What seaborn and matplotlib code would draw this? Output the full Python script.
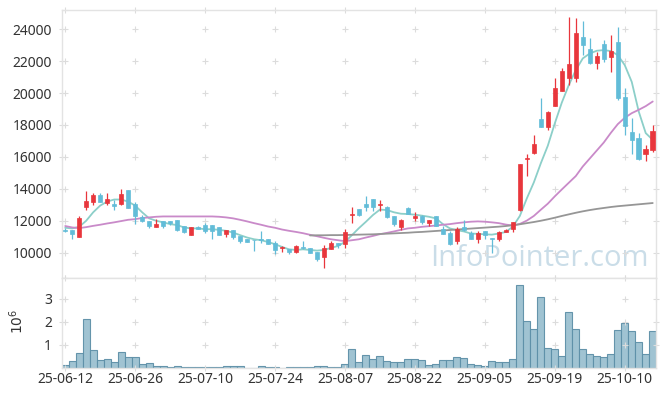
import numpy as np
import pandas as pd
import seaborn as sns
import matplotlib.pyplot as plt

# trading days shown on the axis (every 10th bar gets a label)
tick_labels = ['25-06-12', '25-06-26', '25-07-10', '25-07-24', '25-08-07',
               '25-08-22', '25-09-05', '25-09-19', '25-10-10']

# daily OHLC
opens = [11400, 11410, 11000, 12880, 13160, 13620, 13120, 13030, 13030, 13940,
         13050, 12210, 12000, 11620, 12000, 11980, 12040, 11640, 11120, 11600,
         11730, 11730, 11580, 11160, 11410, 11050, 10840, 10800, 10850, 10840,
         10630, 10310, 10230, 10040, 10340, 10270, 10040, 9730, 10210, 10610,
         10570, 12330, 12740, 13050, 13370, 12980, 12840, 12320, 11580, 12820,
         12170, 12320, 11850, 12270, 11470, 11260, 10740, 11580, 11260, 10880,
         11330, 10900, 10860, 11300, 11500, 12650, 15880, 16240, 18380, 17900,
         19220, 20150, 20960, 20960, 23480, 22750, 21900, 23100, 22270, 23170,
         19740, 17590, 17200, 16200, 16430]
highs = [11560, 11410, 12290, 13890, 13720, 13750, 13720, 13330, 14000, 13940,
         13160, 12360, 12000, 12100, 12000, 11980, 12040, 11680, 11580, 11660,
         11880, 11730, 11580, 11410, 11410, 11050, 10840, 10800, 11370, 10880,
         10740, 10440, 10250, 10460, 10740, 10290, 10040, 10500, 10720, 10610,
         11480, 12840, 12740, 13540, 13370, 13330, 12900, 12320, 12100, 12840,
         12530, 12360, 12060, 12290, 11680, 11370, 11580, 12060, 11370, 11370,
         11370, 10950, 11350, 11490, 11920, 15550, 16180, 17400, 19720, 18880,
         20920, 21590, 24770, 24710, 24500, 23420, 22590, 23310, 23630, 24150,
         20300, 18430, 17500, 16750, 17970]
lows = [11270, 10860, 10960, 12670, 12990, 13160, 12990, 12670, 12990, 12820,
        11790, 11900, 11520, 11620, 11520, 11730, 11370, 11260, 11120, 11470,
        11260, 10880, 11120, 11010, 10880, 10630, 10670, 10110, 10630, 10530,
        9900, 10040, 9900, 9960, 10210, 9960, 9450, 9070, 10210, 10320,
        10270, 11890, 12320, 12630, 12630, 12630, 12150, 11680, 11430, 12420,
        11960, 11790, 11680, 11680, 11160, 10490, 10530, 11370, 10840, 10630,
        10880, 10000, 10760, 11280, 11310, 12640, 14800, 16170, 17900, 17700,
        19220, 20150, 20510, 20710, 22380, 21800, 21480, 21960, 21340, 19570,
        17390, 16200, 15790, 15730, 16300]
closes = [11370, 11180, 12200, 13240, 13620, 13200, 13370, 12950, 13680, 12820,
          12320, 12000, 11640, 11790, 11680, 11830, 11430, 11300, 11580, 11510,
          11370, 11370, 11120, 11410, 10990, 10740, 10670, 10770, 10810, 10570,
          10170, 10350, 10040, 10420, 10300, 9960, 9580, 10270, 10630, 10480,
          11300, 12420, 12360, 12840, 12840, 13030, 12210, 11790, 12020, 12420,
          12300, 11900, 12060, 11680, 11160, 10530, 11470, 11430, 10880, 11260,
          11100, 10860, 11300, 11410, 11920, 15530, 15930, 16800, 17900, 18800,
          20300, 21380, 21800, 23790, 23000, 21900, 22320, 22110, 22630, 19720,
          17910, 17070, 15880, 16500, 17640]

# moving averages as drawn on the chart
ma5 = [11560, 11520, 11620, 12000, 12530, 12950, 13200, 13330, 13330, 13200,
       12950, 12530, 12150, 12000, 11900, 11790, 11730, 11580, 11520, 11520,
       11470, 11470, 11430, 11370, 11260, 11100, 10950, 10840, 10780, 10670,
       10530, 10360, 10210, 10170, 10210, 10170, 10130, 10170, 10300, 10420,
       10670, 11100, 11540, 11940, 12360, 12700, 12670, 12530, 12440, 12420,
       12380, 12320, 12250, 12150, 11790, 11520, 11410, 11330, 11200, 11180,
       11150, 11130, 11200, 11300, 11630, 12300, 13400, 14400, 15600, 16700,
       18100, 19400, 20500, 21440, 22170, 22480, 22650, 22690, 22630, 22380,
       21750, 20700, 18840, 17490, 17070]
ma20 = [11670, 11580, 11540, 11600, 11680, 11750, 11830, 11900, 11980, 12060,
        12100, 12170, 12210, 12250, 12270, 12270, 12270, 12270, 12270, 12270,
        12270, 12270, 12250, 12210, 12150, 12060, 11960, 11850, 11750, 11640,
        11560, 11450, 11370, 11300, 11220, 11120, 11030, 10930, 10840, 10780,
        10720, 10780, 10840, 10950, 11050, 11160, 11240, 11330, 11430, 11520,
        11560, 11620, 11660, 11700, 11750, 11790, 11850, 11900, 11940, 11960,
        11940, 11900, 11850, 11760, 11700, 11800, 12010, 12300, 12690, 13070,
        13530, 13960, 14380, 14800, 15400, 15900, 16400, 16900, 17500, 18050,
        18450, 18740, 18950, 19180, 19470]
ma60_start = 35
ma60 = [11080, 11090, 11090, 11100, 11100, 11110, 11120, 11130, 11140, 11150,
        11170, 11190, 11210, 11230, 11250, 11280, 11300, 11330, 11360, 11390,
        11420, 11450, 11480, 11510, 11540, 11570, 11600, 11630, 11670, 11720,
        11780, 11850, 11920, 12000, 12090, 12190, 12300, 12400, 12500, 12590,
        12670, 12740, 12800, 12860, 12910, 12950, 12990, 13030, 13070, 13110]

# volume, millions of shares
volume = [0.15, 0.29, 0.63, 2.13, 0.78, 0.34, 0.38, 0.25, 0.69, 0.47,
          0.47, 0.16, 0.21, 0.10, 0.10, 0.06, 0.10, 0.06, 0.06, 0.06,
          0.06, 0.06, 0.06, 0.10, 0.10, 0.10, 0.02, 0.02, 0.10, 0.06,
          0.06, 0.02, 0.06, 0.06, 0.06, 0.06, 0.10, 0.10, 0.06, 0.03,
          0.18, 0.84, 0.26, 0.57, 0.37, 0.50, 0.32, 0.24, 0.28, 0.40,
          0.40, 0.35, 0.15, 0.19, 0.35, 0.35, 0.49, 0.44, 0.18, 0.13,
          0.09, 0.32, 0.24, 0.24, 0.37, 3.59, 2.03, 1.68, 3.09, 0.88,
          0.81, 0.54, 2.43, 1.68, 0.81, 0.59, 0.54, 0.46, 0.59, 1.65,
          1.94, 1.60, 1.12, 0.59, 1.60]

n = len(closes)
df = pd.DataFrame({'i': np.arange(n), 'open': opens, 'high': highs,
                   'low': lows, 'close': closes, 'ma5': ma5, 'ma20': ma20,
                   'vol': volume})
up = df['close'] >= df['open']

sns.set_style('white')
plt.rcParams['font.family'] = ['Noto Sans', 'DejaVu Sans']

UP = '#e8363c'
DOWN = '#62bcd8'
GRID = '#dcdcdc'
TXT = '#333333'

fig = plt.figure(figsize=(6.65, 3.96), dpi=100)
ax = fig.add_axes([0.0928, 0.298, 0.894, 0.677])
axv = fig.add_axes([0.0928, 0.0707, 0.894, 0.2273], sharex=ax)

xlim = (-0.5, n - 0.5)
ylim = (8414, 25209)
vlim = (0, 3.9)
xticks = list(range(0, n, 10))[:len(tick_labels)]
yticks = list(range(10000, 24001, 2000))
vticks = [1, 2, 3]

# watermark behind everything
ax.text(0.9866, 0.045, 'InfoPointer.com', transform=ax.transAxes, ha='right',
        va='baseline', fontsize=21, color='#cadde8', family='Open Sans',
        zorder=0)

# moving averages
sns.lineplot(x=df['i'], y=df['ma5'], ax=ax, color='#8ccfc9', lw=1.3, zorder=2)
sns.lineplot(x=df['i'], y=df['ma20'], ax=ax, color='#c98ac9', lw=1.3, zorder=2)
sns.lineplot(x=np.arange(ma60_start, ma60_start + len(ma60)), y=ma60, ax=ax,
             color='#969696', lw=1.3, zorder=2)

# candles
colors = np.where(up, UP, DOWN)
ax.vlines(df['i'], df['low'], df['high'], colors=colors, lw=0.9, zorder=3)
body_lo = np.minimum(df['open'], df['close'])
body_h = np.maximum(np.abs(df['close'] - df['open']), 30)
ax.bar(df['i'], body_h, bottom=body_lo, width=0.64, color=colors,
       edgecolor=colors, linewidth=0.5, zorder=4)

# volume bars
sns.barplot(x=df['i'], y=df['vol'], ax=axv, color='#9bc0d0', width=1.0,
            saturation=1, edgecolor='#5e90a8', linewidth=0.8, alpha=0.95)

# "+" grid marks on the grid and along the frame
def plus_grid(a, xs, ys, yl):
    pts = [(x, y) for x in xs for y in ys]
    pts += [(x, y) for x in xlim for y in ys]
    pts += [(x, y) for x in xs for y in yl]
    px, py = zip(*pts)
    a.scatter(px, py, marker='+', s=16, color=GRID, linewidths=0.8,
              clip_on=False, zorder=1)

plus_grid(ax, xticks, yticks, ylim)
plus_grid(axv, xticks, vticks, vlim)

for a in (ax, axv):
    for s in a.spines.values():
        s.set_color('#e3e3e3')
        s.set_linewidth(1.0)
    a.tick_params(length=0, labelsize=10, labelcolor=TXT, pad=7)
    a.set_xlabel('')
    a.set_ylabel('')

ax.set_xlim(xlim)
ax.set_ylim(ylim)
ax.set_yticks(yticks)
ax.tick_params(axis='x', labelbottom=False)

axv.set_ylim(vlim)
axv.set_yticks(vticks)
axv.set_xticks(xticks)
axv.set_xticklabels(tick_labels)
axv.tick_params(axis='x', pad=3)
axv.set_ylabel('$10^6$', fontsize=10, color=TXT)
axv.yaxis.set_label_coords(-0.058, 0.52)

fig.savefig('out.png', dpi=100)
